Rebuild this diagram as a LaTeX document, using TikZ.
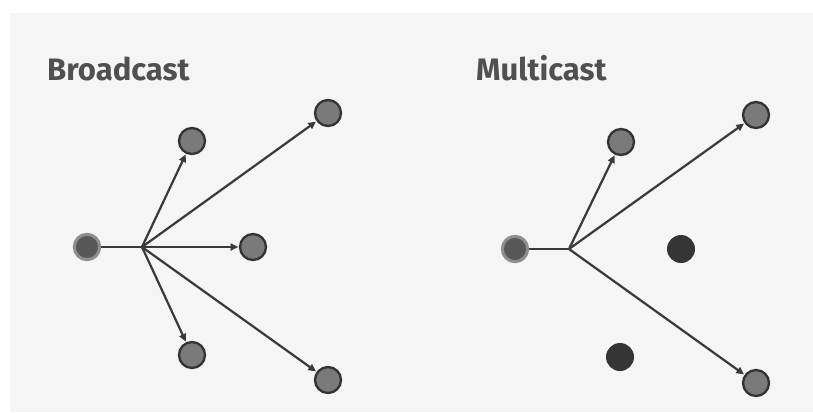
\documentclass[tikz,border=0pt]{standalone}
\usepackage{fontspec}
\setsansfont{Fira Sans}
\usetikzlibrary{arrows.meta,positioning}

\definecolor{bggrey}{HTML}{F5F5F5}
\definecolor{titlegrey}{HTML}{505050}
\definecolor{linegrey}{HTML}{3A3A3A}
\definecolor{hostgrey}{HTML}{7A7A7A}
\definecolor{rimgrey}{HTML}{333333}
\definecolor{srcgrey}{HTML}{585858}
\definecolor{halogrey}{HTML}{8E8E8E}
\definecolor{idlegrey}{HTML}{353535}

\tikzset{
    host/.style={circle, fill=hostgrey, draw=rimgrey, line width=2pt, minimum size=0.78cm, inner sep=0pt},
    source/.style={circle, fill=srcgrey, draw=halogrey, line width=2.6pt, minimum size=0.76cm, inner sep=0pt},
    idle/.style={circle, fill=idlegrey, minimum size=0.84cm, inner sep=0pt},
    title/.style={anchor=base west, inner sep=0pt, text=titlegrey, font=\sffamily\bfseries\fontsize{26.5}{30}\selectfont},
    link/.style={draw=linegrey, line width=1.9pt},
    send/.style={link, -{Triangle[length=6.5pt,width=6pt]}, shorten >=0.5pt}
}

\begin{document}
\begin{tikzpicture}[x=0.03cm, y=-0.03cm]
    \useasboundingbox (0,0) rectangle (813,412);
    \fill [white] (0,0) rectangle (813,412);
    \fill [bggrey] (10,13) rectangle (813,412);

    % Broadcast
    \node [title] (btitle) at (47,80) {Broadcast};
    \node [source] (bsrc) at (87,247) {};
    \coordinate (bhub) at (142,247);
    \node [host] (bup) at (192,141) {};
    \node [host] (bfarup) at (328,113) {};
    \node [host] (bmid) at (253,247) {};
    \node [host] (bdown) at (192,355) {};
    \node [host] (bfardown) at (328,380) {};
    \draw [link] (bsrc) -- (bhub);
    \foreach \dst in {bup, bfarup, bmid, bdown, bfardown} {
        \draw [send] (bhub) -- (\dst);
    }

    % Multicast
    \node [title] (mtitle) at (476,80) {Multicast};
    \node [source] (msrc) at (515,249) {};
    \coordinate (mhub) at (569,249);
    \node [host] (mup) at (621,142) {};
    \node [host] (mfarup) at (756,115) {};
    \node [idle] (mmid) at (681,249) {};
    \node [idle] (mdown) at (620,357) {};
    \node [host] (mfardown) at (756,383) {};
    \draw [link] (msrc) -- (mhub);
    \foreach \dst in {mup, mfarup, mfardown} {
        \draw [send] (mhub) -- (\dst);
    }
\end{tikzpicture}
\end{document}
